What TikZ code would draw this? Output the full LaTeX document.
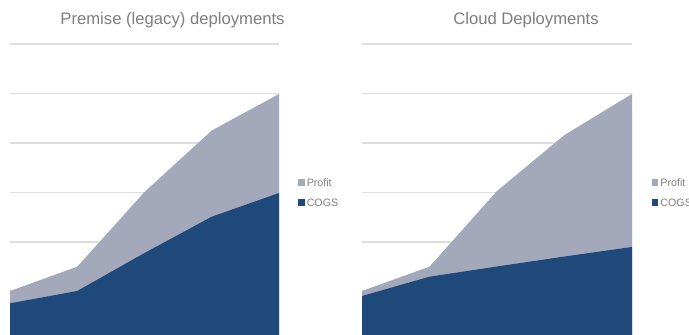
\documentclass[tikz,border=0pt]{standalone}
\usepackage{fontspec}
\setmainfont{Liberation Sans}
\definecolor{profitc}{HTML}{A3A8BA}
\definecolor{cogsc}{HTML}{1F487B}
\definecolor{gridc}{HTML}{DEDEDE}
\definecolor{textc}{HTML}{7F7F7F}
\begin{document}
\begin{tikzpicture}[x=0.75pt,y=-0.75pt,
  gridline/.style={draw=gridc,line width=0.8pt},
  titletext/.style={text=textc,font=\fontsize{12.5}{14}\selectfont,inner sep=0pt},
  legtext/.style={text=textc,font=\fontsize{8}{9.6}\selectfont,inner sep=0pt,anchor=west},
  legbox/.style={minimum size=4.8pt,inner sep=0pt,anchor=center}]
\path[use as bounding box,fill=white] (0,0) rectangle (689,335);
% grid lines
\foreach \y in {44,93.5,143,192.5,242,291}{
  \draw[gridline] (10,\y) -- (279,\y);
  \draw[gridline] (362,\y) -- (632,\y);
}
% left chart
\fill[profitc] (10,335) -- (10,291) -- (77.25,266.7) -- (144.5,192) -- (211.75,130.5) -- (279,94) -- (279,335) -- cycle;
\fill[cogsc] (10,335) -- (10,303.3) -- (77.25,291) -- (144.5,253) -- (211.75,216.7) -- (279,193) -- (279,335) -- cycle;
% right chart
\fill[profitc] (362,335) -- (362,291) -- (429.5,266.7) -- (497,191) -- (564.5,135) -- (632,94) -- (632,335) -- cycle;
\fill[cogsc] (362,335) -- (362,296) -- (429.5,276.7) -- (497,266.5) -- (564.5,256.5) -- (632,247) -- (632,335) -- cycle;
% titles
\node[titletext] (t1) at (172.5,20) {Premise (legacy) deployments};
\node[titletext] (t2) at (526,20) {Cloud Deployments};
% legends
\node[legbox,fill=profitc] (lp1) at (301.3,182.5) {};
\node[legtext] (lpt1) at (306.5,182.5) {Profit};
\node[legbox,fill=cogsc] (lc1) at (301.3,202.5) {};
\node[legtext] (lct1) at (306.5,202.5) {COGS};
\node[legbox,fill=profitc] (lp2) at (655,182.5) {};
\node[legtext] (lpt2) at (660.2,182.5) {Profit};
\node[legbox,fill=cogsc] (lc2) at (655,202.5) {};
\node[legtext] (lct2) at (660.2,202.5) {COGS};
\end{tikzpicture}
\end{document}
